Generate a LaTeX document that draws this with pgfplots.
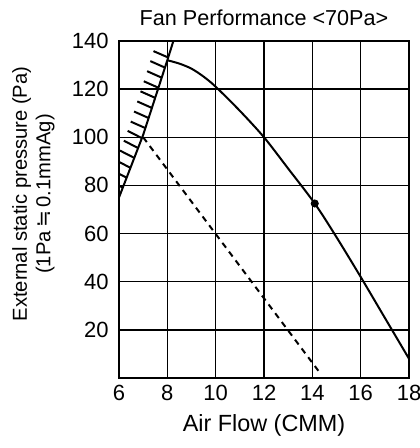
\documentclass[border=0pt]{standalone}
\usepackage{fontspec}
\setmainfont{Liberation Sans}
\newfontfamily\symfont{DejaVu Sans}
\usepackage{pgfplots}
\pgfplotsset{compat=1.18}
\usetikzlibrary{decorations.pathreplacing,calc}

\begin{document}
\begin{tikzpicture}
\begin{axis}[
  name=ax,
  scale only axis,
  width=145pt, height=168.5pt,
  xmin=6, xmax=18, ymin=0, ymax=140,
  xtick={6,8,...,18}, ytick={20,40,...,140},
  grid=major,
  major grid style={black, line width=0.7pt},
  major tick length=0pt,
  axis line style={line width=1pt},
  tick label style={font=\fontsize{11}{13}\selectfont},
  /pgf/number format/assume math mode=true,
  xticklabel style={anchor=center, yshift=-7.5pt},
  yticklabel style={anchor=east, inner sep=0pt, xshift=-5pt},
  every axis title shift=0pt,
  title={Fan Performance <70Pa>},
  title style={font=\fontsize{10.8}{13}\selectfont, at={(axis description cs:0.5,1.068)}, anchor=center},
  xlabel={Air Flow (CMM)},
  xlabel style={font=\fontsize{11.7}{13}\selectfont, at={(axis description cs:0.5,-0.14)}, anchor=center},
  ylabel={External static pressure (Pa)\\(1Pa{\,\symfont ≒\,}0.1mmAg)},
  ylabel style={font=\fontsize{10.1}{11.8}\selectfont, align=center,
    at={(axis description cs:-0.295,0.546)}, anchor=center},
]
% surge limit with hatching
\addplot[black, line width=1pt,
  postaction={decorate, decoration={border, segment length=5.3pt, amplitude=8pt, angle=84}}]
  coordinates {(6,75) (7,101) (8,132) (8.25,140)};
% fan curve
\addplot[black, line width=1pt, smooth] coordinates {
  (8,132) (8.5,130.6) (9,128.5) (9.5,125.2) (10,121) (11,111) (12,100) (13,87)
  (14.1,72.5) (15,58.5) (16,42) (17,25) (18,8)};
% operating point
\addplot[only marks, mark=*, mark size=1.8pt, black] coordinates {(14.1,72.5)};
% dashed line
\addplot[black, line width=1pt, dash pattern=on 3pt off 2.5pt]
  coordinates {(7,100) (14.25,3)};
\end{axis}
\pgfresetboundingbox
\path[use as bounding box] ($(ax.south west)+(-59.5pt,-35pt)$) rectangle ($(ax.north east)+(5.5pt,20.5pt)$);
\end{tikzpicture}
\end{document}
